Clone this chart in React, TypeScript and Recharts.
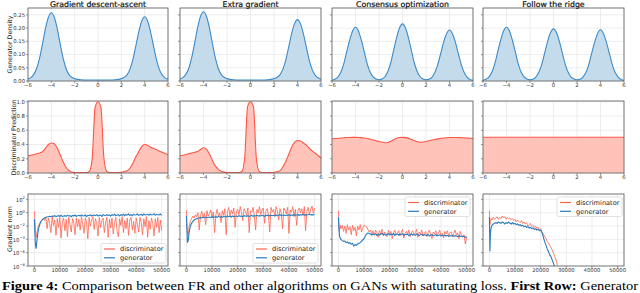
import React from 'react';
import { AreaChart, Area, LineChart, Line, XAxis, YAxis, CartesianGrid } from 'recharts';

const FONT = '"DejaVu Sans", Verdana, sans-serif';
const SERIF = '"Liberation Serif", "Times New Roman", serif';

const methods = ['Gradient descent-ascent', 'Extra gradient', 'Consensus optimization', 'Follow the ridge'];

// x grid shared by the first two rows
const gridX = [
  -6, -5.75, -5.5, -5.25, -5, -4.75, -4.5, -4.25, -4, -3.75, -3.5, -3.25, -3, -2.75, -2.5, -2.25, -2,
  -1.75, -1.5, -1.25, -1, -0.75, -0.5, -0.25, 0, 0.25, 0.5, 0.75, 1, 1.25, 1.5, 1.75,
  2, 2.25, 2.5, 2.75, 3, 3.25, 3.5, 3.75, 4, 4.25, 4.5, 4.75, 5, 5.25, 5.5, 5.75, 6,
];

// row 1: generator density
const gdaDensity = [
  0.008, 0.013, 0.025, 0.048, 0.088, 0.142, 0.199, 0.241, 0.258,
  0.241, 0.199, 0.142, 0.088, 0.048, 0.025, 0.014, 0.009,
  0.006, 0.005, 0.004, 0.004, 0.004, 0.004, 0.004, 0.004, 0.004, 0.004, 0.004, 0.004, 0.004, 0.005, 0.006,
  0.009, 0.014, 0.024, 0.046, 0.083, 0.134, 0.187, 0.227, 0.243,
  0.227, 0.187, 0.134, 0.083, 0.045, 0.023, 0.012, 0.007,
];
const egDensity = [
  0.008, 0.013, 0.025, 0.048, 0.089, 0.144, 0.202, 0.245, 0.262,
  0.245, 0.202, 0.144, 0.089, 0.048, 0.025, 0.014, 0.009,
  0.006, 0.005, 0.004, 0.004, 0.004, 0.004, 0.004, 0.004, 0.004, 0.004, 0.004, 0.004, 0.004, 0.005, 0.006,
  0.009, 0.013, 0.023, 0.044, 0.079, 0.128, 0.179, 0.217, 0.232,
  0.217, 0.179, 0.128, 0.079, 0.043, 0.022, 0.012, 0.007,
];
const coDensity = [
  0.003, 0.007, 0.015, 0.033, 0.065, 0.11, 0.154, 0.189, 0.203,
  0.189, 0.154, 0.11, 0.065, 0.033, 0.016, 0.008, 0.005,
  0.008, 0.016, 0.036, 0.069, 0.117, 0.164, 0.201, 0.216, 0.201, 0.164, 0.117, 0.069, 0.036, 0.016, 0.008,
  0.005, 0.007, 0.014, 0.032, 0.062, 0.104, 0.147, 0.179, 0.193,
  0.179, 0.147, 0.104, 0.062, 0.032, 0.014, 0.006, 0.003,
];
const frDensity = [
  0.003, 0.007, 0.015, 0.033, 0.065, 0.11, 0.154, 0.189, 0.203,
  0.189, 0.154, 0.11, 0.065, 0.033, 0.016, 0.008, 0.005,
  0.007, 0.015, 0.033, 0.063, 0.106, 0.15, 0.183, 0.197, 0.183, 0.15, 0.106, 0.063, 0.033, 0.015, 0.008,
  0.005, 0.007, 0.015, 0.032, 0.062, 0.105, 0.147, 0.18, 0.194,
  0.18, 0.147, 0.105, 0.062, 0.032, 0.015, 0.006, 0.003,
];

// row 2: discriminator prediction
const gdaPred = [
  0.24, 0.25, 0.26, 0.27, 0.28, 0.3, 0.35, 0.4, 0.42,
  0.41, 0.35, 0.26, 0.16, 0.08, 0.035, 0.015, 0.008,
  0.005, 0.005, 0.005, 0.006, 0.02, 0.2, 0.92, 1.0, 0.92, 0.22, 0.02, 0.006, 0.005, 0.005, 0.006,
  0.01, 0.02, 0.03, 0.07, 0.14, 0.23, 0.3, 0.37, 0.4,
  0.39, 0.36, 0.345, 0.33, 0.31, 0.29, 0.275, 0.26,
];
const egPred = [
  0.24, 0.25, 0.26, 0.27, 0.28, 0.29, 0.3, 0.33, 0.355,
  0.335, 0.27, 0.18, 0.1, 0.055, 0.025, 0.012, 0.008,
  0.005, 0.005, 0.005, 0.006, 0.02, 0.2, 0.93, 1.0, 0.93, 0.2, 0.02, 0.006, 0.005, 0.005, 0.006,
  0.01, 0.018, 0.03, 0.085, 0.16, 0.26, 0.36, 0.43, 0.455,
  0.45, 0.42, 0.39, 0.35, 0.31, 0.28, 0.245, 0.21,
];
const coPred = [
  0.48, 0.483, 0.487, 0.49, 0.494, 0.497, 0.499, 0.5, 0.5,
  0.499, 0.496, 0.49, 0.483, 0.474, 0.463, 0.452, 0.443,
  0.432, 0.425, 0.428, 0.445, 0.468, 0.487, 0.498, 0.5, 0.496, 0.486, 0.47, 0.455, 0.44, 0.432, 0.435,
  0.442, 0.452, 0.462, 0.471, 0.479, 0.486, 0.491, 0.495, 0.497,
  0.498, 0.498, 0.497, 0.495, 0.493, 0.49, 0.487, 0.484,
];
const frPred = [
  0.502, 0.502, 0.502, 0.502, 0.502, 0.502, 0.502, 0.502, 0.502,
  0.502, 0.502, 0.502, 0.502, 0.502, 0.502, 0.502, 0.502,
  0.502, 0.502, 0.502, 0.502, 0.502, 0.502, 0.502, 0.502, 0.502, 0.502, 0.502, 0.502, 0.502, 0.502, 0.502,
  0.502, 0.502, 0.502, 0.502, 0.502, 0.502, 0.502, 0.502, 0.502,
  0.502, 0.502, 0.502, 0.502, 0.502, 0.502, 0.502, 0.502,
];

// row 3: gradient norms, stored as log10 values
const iterations = [
  0, 200, 400, 700, 1000, 1500, 2000, 2500, 3000, 3500,
  4000, 4500, 5000, 5500, 6000, 6500, 7000, 7500, 8000, 8500,
  9000, 9500, 10000, 10500, 11000, 11500, 12000, 12500, 13000, 13500,
  14000, 14500, 15000, 15500, 16000, 16500, 17000, 17500, 18000, 18500,
  19000, 19500, 20000, 20500, 21000, 21500, 22000, 22500, 23000, 23500,
  24000, 24500, 25000, 25500, 26000, 26500, 27000, 27500, 28000, 28500,
  29000, 29500, 30000, 30500, 31000, 31500, 32000, 32500, 33000, 33500,
  34000, 34500, 35000, 35500, 36000, 36500, 37000, 37500, 38000, 38500,
  39000, 39500, 40000, 40500, 41000, 41500, 42000, 42500, 43000, 43500,
  44000, 44500, 45000, 45500, 46000, 46500, 47000, 47500, 48000, 48500,
  49000, 49500, 50000,
];
const gdaDisc = [
  0.2, -1.0, -2.6, -3.7, -3.0, -2.1, -1.6, -1.3, -1.1, -0.9,
  -1.2, -0.7, -2.4, -0.8, -1.6, -3.0, -0.6, -1.9, -1.1, -3.4,
  -0.9, -2.2, -0.7, -3.8, -1.3, -0.8, -2.7, -1.0, -3.6, -0.7,
  -1.8, -2.9, -0.9, -1.5, -3.3, -0.8, -2.1, -1.0, -2.6, -0.6,
  -1.7, -3.1, -0.8, -1.4, -3.9, -0.7, -2.0, -1.1, -0.6, -2.5,
  -0.9, -1.6, -3.5, -0.7, -2.2, -1.2, -0.8, -3.0, -1.4, -0.7,
  -3.7, -1.0, -2.3, -0.8, -3.2, -1.5, -0.7, -2.8, -3.6, -0.9,
  -1.9, -0.6, -3.0, -1.2, -2.4, -0.8, -3.4, -1.1, -0.7, -2.6,
  -1.3, -3.1, -0.8, -1.8, -2.9, -0.7, -1.5, -3.3, -0.9, -2.1,
  -0.6, -3.7, -1.2, -2.5, -0.8, -1.6, -3.5, -0.9, -2.2, -0.7,
  -3.0, -1.1, -2.7,
];
const gdaGen = [
  -1.0, -3.0, -4.8, -5.4, -4.2, -2.7, -1.9, -1.4, -1.1, -0.9,
  -0.8, -0.7, -0.65, -0.6, -0.55, -0.6, -0.5, -0.55, -0.45, -0.6,
  -0.5, -0.45, -0.55, -0.4, -0.6, -0.5, -0.45, -0.55, -0.4, -0.5,
  -0.45, -0.6, -0.4, -0.5, -0.35, -0.55, -0.45, -0.4, -0.5, -0.35,
  -0.45, -0.5, -0.35, -0.6, -0.4, -0.45, -0.3, -0.5, -0.4, -0.35,
  -0.45, -0.3, -0.5, -0.4, -0.35, -0.55, -0.3, -0.4, -0.45, -0.3,
  -0.4, -0.35, -0.5, -0.3, -0.4, -0.25, -0.45, -0.35, -0.3, -0.5,
  -0.3, -0.4, -0.25, -0.45, -0.3, -0.35, -0.2, -0.4, -0.3, -0.45,
  -0.25, -0.35, -0.3, -0.2, -0.4, -0.3, -0.25, -0.45, -0.2, -0.35,
  -0.3, -0.25, -0.4, -0.2, -0.35, -0.3, -0.15, -0.4, -0.25, -0.3,
  -0.35, -0.2, -0.4,
];
const egDisc = [
  0.4, -1.6, -2.9, -3.3, -2.2, -1.3, -0.9, -0.5, -0.8, -0.3,
  -0.6, 0.0, -2.6, -0.4, 0.2, -0.7, -0.1, -1.8, 0.3, -0.5,
  -0.2, 0.4, -0.8, 0.1, -3.0, -0.3, 0.5, -0.6, 0.0, -1.5,
  0.3, -0.4, 0.6, -3.3, 0.1, 0.8, -0.5, 0.4, -0.2, 0.7,
  -2.2, 0.2, 0.5, -0.3, 0.9, 0.0, -1.2, 0.6, 0.2, -0.4,
  0.7, -3.0, 0.3, 0.1, 0.8, -0.6, -2.6, 0.5, 0.0, 0.9,
  -0.3, 0.4, 0.7, -1.6, 0.2, 0.6, -0.4, -2.9, 0.8, 0.1,
  0.5, -0.5, 0.9, 0.2, -1.1, 0.6, 0.0, -2.4, 0.7, 0.3,
  -0.2, 0.8, -3.1, 0.4, 0.1, 0.9, -0.6, 0.5, -1.9, 0.3,
  0.7, 0.0, 0.6, -0.4, 0.9, -2.7, 0.2, 0.8, -0.3, 0.5,
  1.0, -0.1, 0.7,
];
const egGen = [
  -0.5, -2.6, -4.5, -4.2, -3.1, -2.1, -1.6, -1.3, -1.1, -1.0,
  -0.9, -0.85, -0.8, -0.75, -0.8, -0.7, -0.75, -0.65, -0.75, -0.7,
  -0.65, -0.75, -0.6, -0.7, -0.65, -0.6, -0.7, -0.55, -0.65, -0.6,
  -0.7, -0.55, -0.6, -0.65, -0.5, -0.6, -0.55, -0.65, -0.5, -0.6,
  -0.55, -0.5, -0.6, -0.45, -0.55, -0.5, -0.6, -0.45, -0.5, -0.55,
  -0.45, -0.55, -0.5, -0.4, -0.55, -0.45, -0.5, -0.4, -0.5, -0.45,
  -0.5, -0.4, -0.45, -0.55, -0.4, -0.45, -0.35, -0.5, -0.4, -0.45,
  -0.4, -0.5, -0.35, -0.45, -0.4, -0.3, -0.45, -0.4, -0.35, -0.45,
  -0.35, -0.4, -0.3, -0.45, -0.35, -0.4, -0.3, -0.4, -0.35, -0.3,
  -0.4, -0.3, -0.35, -0.25, -0.4, -0.3, -0.35, -0.3, -0.25, -0.35,
  -0.3, -0.35, -0.25,
];
const coDisc = [
  0.3, -1.6, -2.8, -1.9, -2.4, -1.9, -2.8, -2.0, -3.1, -1.8,
  -2.6, -2.1, -3.3, -1.9, -2.7, -2.2, -3.5, -2.0, -2.6, -1.8,
  -2.9, -2.2, -1.9, -2.0, -2.1, -2.5, -2.9, -2.6, -3.2, -2.7,
  -3.4, -2.6, -3.0, -3.7, -2.7, -3.2, -2.5, -3.5, -2.9, -3.1,
  -3.6, -2.6, -3.3, -2.8, -3.9, -3.0, -2.6, -3.4, -3.1, -2.7,
  -3.5, -3.0, -2.5, -3.8, -3.1, -2.8, -3.3, -2.6, -3.6, -3.0,
  -2.7, -3.4, -3.0, -2.5, -3.7, -2.9, -3.2, -2.6, -3.5, -3.1,
  -2.8, -3.6, -3.0, -2.6, -3.3, -3.9, -2.9, -3.2, -2.7, -3.5,
  -3.0, -2.6, -3.4, -3.1, -3.8, -2.8, -3.2, -2.7, -3.5, -3.0,
  -2.9, -3.6, -3.1, -2.6, -3.4, -3.0, -3.9, -2.8, -3.3, -3.7,
  -3.3, -4.7, -3.6,
];
const coGen = [
  -0.7, -2.4, -3.4, -3.8, -4.0, -4.2, -4.3, -4.25, -4.5, -4.4,
  -4.6, -4.5, -4.75, -4.6, -5.0, -4.8, -4.9, -4.7, -4.6, -4.5,
  -4.3, -4.1, -3.9, -3.5, -3.2, -3.05, -3.1, -3.2, -3.35, -3.2,
  -3.3, -3.15, -3.4, -3.2, -3.35, -3.25, -3.1, -3.3, -3.2, -3.4,
  -3.25, -3.15, -3.35, -3.2, -3.3, -3.1, -3.4, -3.25, -3.2, -3.35,
  -3.2, -3.3, -3.15, -3.4, -3.25, -3.3, -3.2, -3.45, -3.3, -3.2,
  -3.35, -3.25, -3.4, -3.2, -3.3, -3.45, -3.3, -3.25, -3.4, -3.3,
  -3.35, -3.4, -3.3, -3.5, -3.35, -3.3, -3.45, -3.4, -3.3, -3.5,
  -3.4, -3.35, -3.5, -3.4, -3.45, -3.35, -3.5, -3.4, -3.55, -3.45,
  -3.5, -3.4, -3.55, -3.45, -3.5, -3.6, -3.45, -3.55, -3.5, -3.6,
  -3.55, -3.7, -3.6,
];
// follow the ridge collapses below the axis after ~27000 iterations
const frDisc = [
  0.3, -1.8, -1.3, -0.9, -1.1, -0.7, -1.0, -0.8, -0.6, -1.0,
  -0.7, -0.9, -0.5, -0.8, -0.6, -1.0, -0.7, -0.9, -0.8, -1.1,
  -0.9, -1.2, -1.0, -1.4, -1.1, -1.3, -1.5, -1.2, -1.6, -1.4,
  -1.7, -1.5, -2.0, -1.8, -1.6, -2.1, -1.9, -2.2, -2.0, -2.4,
  -2.2, -2.6, -2.4, -2.9, -3.2, -3.6, -3.8, -4.3, -4.5, -4.9,
  -5.2, -5.6, -6.1, -6.6, -7.1, -7.8, -8.5, -9.3,
];
const frGen = [
  -0.7, -5.8, -3.0, -2.2, -1.9, -1.7, -1.6, -1.5, -1.6, -1.4,
  -1.5, -1.6, -1.4, -1.5, -1.7, -1.5, -1.6, -1.4, -1.6, -1.7,
  -1.5, -1.7, -1.6, -1.8, -1.7, -1.9, -1.8, -2.0, -1.9, -2.1,
  -2.0, -2.2, -2.1, -2.3, -2.2, -2.4, -2.3, -2.5, -2.4, -2.6,
  -2.5, -2.7, -2.6, -3.0, -3.6, -4.3, -4.8, -5.4, -5.8, -6.3,
  -6.6, -7.1, -7.6, -8.2, -9.0,
];

const densities = [gdaDensity, egDensity, coDensity, frDensity];
const predictions = [gdaPred, egPred, coPred, frPred];
const discNorms = [gdaDisc, egDisc, coDisc, frDisc];
const genNorms = [gdaGen, egGen, coGen, frGen];

const xTicks = [-6, -4, -2, 0, 2, 4, 6];
const densityTicks = [0, 0.05, 0.1, 0.15, 0.2, 0.25];
const predTicks = [0, 0.2, 0.4, 0.6, 0.8, 1.0];
const iterTicks = [0, 10000, 20000, 30000, 40000, 50000];
const normTicks = [-8, -6, -4, -2, 0, 2];

// layout of the 4x3 grid of plot areas
const COL_X = [28, 180, 332, 483];
const COL_W = [140, 141, 141, 141];
const ROW_Y = [8, 101, 194];
const ROW_H = [73, 72, 72];
const X_H = 12;
const RIGHT = 12;
const TOP = 6;

const BLUE_LINE = '#3d8bc9';
const BLUE_FILL = '#c4dbec';
const RED_LINE = '#ff5444';
const RED_FILL = '#ffc3ba';
const DISC = '#ff6450';
const GEN = '#2b7bbd';

const minus = (v: number) => (v < 0 ? '\u2212' + Math.abs(v) : String(v));

const xTick = (fmt: (v: number) => string) => (p: any) => (
  <text x={p.x} y={p.y} dy={4.2} textAnchor="middle" fontSize={5.3} fontFamily={FONT} fill="#333">
    {fmt(p.payload.value)}
  </text>
);

const yTick = (show: boolean, fmt: (v: number) => string) => (p: any) =>
  show ? (
    <text x={p.x} y={p.y} dy={1.9} textAnchor="end" fontSize={5.3} fontFamily={FONT} fill="#333">
      {fmt(p.payload.value)}
    </text>
  ) : (
    <g />
  );

const powTick = (show: boolean) => (p: any) =>
  show ? (
    <text x={p.x} y={p.y} dy={2.6} textAnchor="end" fontSize={5.3} fontFamily={FONT} fill="#333">
      <tspan>10</tspan>
      <tspan dy={-2.6} fontSize={3.8}>{minus(p.payload.value)}</tspan>
    </text>
  ) : (
    <g />
  );

function CurvePanel({ row, col, values, domain, yTicks, yFmt, stroke, fill }: any) {
  const yw = col === 0 ? 26 : 4;
  const data = gridX.map((x, i) => ({ x, v: values[i] }));
  return (
    <div style={{ position: 'absolute', left: COL_X[col] - yw, top: ROW_Y[row] - TOP }}>
      <AreaChart
        width={yw + COL_W[col] + RIGHT}
        height={TOP + ROW_H[row] + X_H}
        data={data}
        margin={{ top: TOP, right: RIGHT, bottom: 0, left: 0 }}
      >
        <CartesianGrid stroke="#e0e0e0" strokeWidth={0.6} />
        <XAxis
          dataKey="x"
          type="number"
          domain={[-6, 6]}
          ticks={xTicks}
          interval={0}
          height={X_H}
          tickSize={2}
          tickMargin={0}
          axisLine={false}
          tickLine={{ stroke: '#555', strokeWidth: 0.6 }}
          tick={xTick(minus)}
        />
        <YAxis
          type="number"
          domain={domain}
          ticks={yTicks}
          interval={0}
          width={yw}
          tickSize={2}
          tickMargin={1}
          axisLine={false}
          allowDataOverflow
          tickLine={{ stroke: '#555', strokeWidth: 0.6 }}
          tick={yTick(col === 0, yFmt)}
        />
        <Area
          type="monotone"
          dataKey="v"
          stroke={stroke}
          strokeWidth={1.1}
          fill={fill}
          fillOpacity={1}
          dot={false}
          activeDot={false}
          isAnimationActive={false}
        />
      </AreaChart>
    </div>
  );
}

function NormPanel({ col }: { col: number }) {
  const yw = col === 0 ? 26 : 4;
  const data = iterations.map((t, i) => ({
    t,
    d: discNorms[col][i] ?? null,
    g: genNorms[col][i] ?? null,
  }));
  return (
    <div style={{ position: 'absolute', left: COL_X[col] - yw, top: ROW_Y[2] - TOP }}>
      <LineChart
        width={yw + COL_W[col] + RIGHT}
        height={TOP + ROW_H[2] + X_H}
        data={data}
        margin={{ top: TOP, right: RIGHT, bottom: 0, left: 0 }}
      >
        <CartesianGrid stroke="#e0e0e0" strokeWidth={0.6} />
        <XAxis
          dataKey="t"
          type="number"
          domain={[-2500, 52500]}
          ticks={iterTicks}
          interval={0}
          height={X_H}
          tickSize={2}
          tickMargin={0}
          axisLine={false}
          allowDataOverflow
          tickLine={{ stroke: '#555', strokeWidth: 0.6 }}
          tick={xTick((v) => String(v))}
        />
        <YAxis
          type="number"
          domain={[-8, 2.8]}
          ticks={normTicks}
          interval={0}
          width={yw}
          tickSize={2}
          tickMargin={1}
          axisLine={false}
          allowDataOverflow
          tickLine={{ stroke: '#555', strokeWidth: 0.6 }}
          tick={powTick(col === 0)}
        />
        <Line
          type="linear"
          dataKey="d"
          stroke={DISC}
          strokeOpacity={0.9}
          strokeWidth={0.9}
          dot={false}
          activeDot={false}
          isAnimationActive={false}
        />
        <Line
          type="linear"
          dataKey="g"
          stroke={GEN}
          strokeWidth={1.1}
          dot={false}
          activeDot={false}
          isAnimationActive={false}
        />
      </LineChart>
    </div>
  );
}

function LegendBox({ x, y }: { x: number; y: number }) {
  return (
    <g fontFamily={FONT} fontSize={6.6} fill="#222">
      <rect x={x} y={y} width={65} height={19.5} rx={1.5} fill="#fff" fillOpacity={0.85} stroke="#cfcfcf" strokeWidth={0.6} />
      <line x1={x + 3} x2={x + 14} y1={y + 5.5} y2={y + 5.5} stroke={DISC} strokeWidth={1.2} />
      <text x={x + 19} y={y + 7.8}>discriminator</text>
      <line x1={x + 3} x2={x + 14} y1={y + 14.3} y2={y + 14.3} stroke={GEN} strokeWidth={1.2} />
      <text x={x + 19} y={y + 16.6}>generator</text>
    </g>
  );
}

const legendSpots = [
  { x: 101, y: 243.5 },
  { x: 253, y: 243.5 },
  { x: 405, y: 197 },
  { x: 557, y: 197 },
];

const rowLabels = [
  { text: 'Generator Density', x: 12.2, y: 44.5 },
  { text: 'Discriminator Prediction', x: 16, y: 137.5 },
  { text: 'Gradient norm', x: 11.8, y: 229 },
];

export default function App() {
  return (
    <div style={{ position: 'absolute', left: 0, top: 0, width: 640, height: 293, background: '#fff', overflow: 'hidden' }}>
      {[0, 1, 2, 3].map((c) => (
        <CurvePanel
          key={'d' + c}
          row={0}
          col={c}
          values={densities[c]}
          domain={[0, 0.276]}
          yTicks={densityTicks}
          yFmt={(v: number) => v.toFixed(2)}
          stroke={BLUE_LINE}
          fill={BLUE_FILL}
        />
      ))}
      {[0, 1, 2, 3].map((c) => (
        <CurvePanel
          key={'p' + c}
          row={1}
          col={c}
          values={predictions[c]}
          domain={[0, 1.01]}
          yTicks={predTicks}
          yFmt={(v: number) => v.toFixed(1)}
          stroke={RED_LINE}
          fill={RED_FILL}
        />
      ))}
      {[0, 1, 2, 3].map((c) => (
        <NormPanel key={'n' + c} col={c} />
      ))}
      <svg width={640} height={293} style={{ position: 'absolute', left: 0, top: 0, pointerEvents: 'none' }}>
        {[0, 1, 2].map((r) =>
          [0, 1, 2, 3].map((c) => (
            <rect
              key={r + '-' + c}
              x={COL_X[c]}
              y={ROW_Y[r]}
              width={COL_W[c]}
              height={ROW_H[r]}
              fill="none"
              stroke="#5c5c5c"
              strokeWidth={0.8}
            />
          ))
        )}
        {methods.map((m, c) => (
          <text
            key={m}
            x={COL_X[c] + COL_W[c] / 2}
            y={7}
            textAnchor="middle"
            fontFamily={FONT}
            fontSize={7.8}
            fill="#111"
            stroke="#111"
            strokeWidth={0.2}
          >
            {m}
          </text>
        ))}
        {rowLabels.map((l) => (
          <text
            key={l.text}
            x={l.x}
            y={l.y}
            transform={`rotate(-90 ${l.x} ${l.y})`}
            textAnchor="middle"
            fontFamily={FONT}
            fontSize={6.3}
            fill="#222"
          >
            {l.text}
          </text>
        ))}
        {legendSpots.map((s, i) => (
          <LegendBox key={i} x={s.x} y={s.y} />
        ))}
        <text x={2} y={290} fontFamily={SERIF} fontSize={11.5} fill="#000" textLength={636} lengthAdjust="spacingAndGlyphs">
          <tspan fontWeight="bold">Figure 4:</tspan>
          {' Comparison between FR and other algorithms on GANs with saturating loss. '}
          <tspan fontWeight="bold">First Row:</tspan>
          {' Generator'}
        </text>
      </svg>
    </div>
  );
}
